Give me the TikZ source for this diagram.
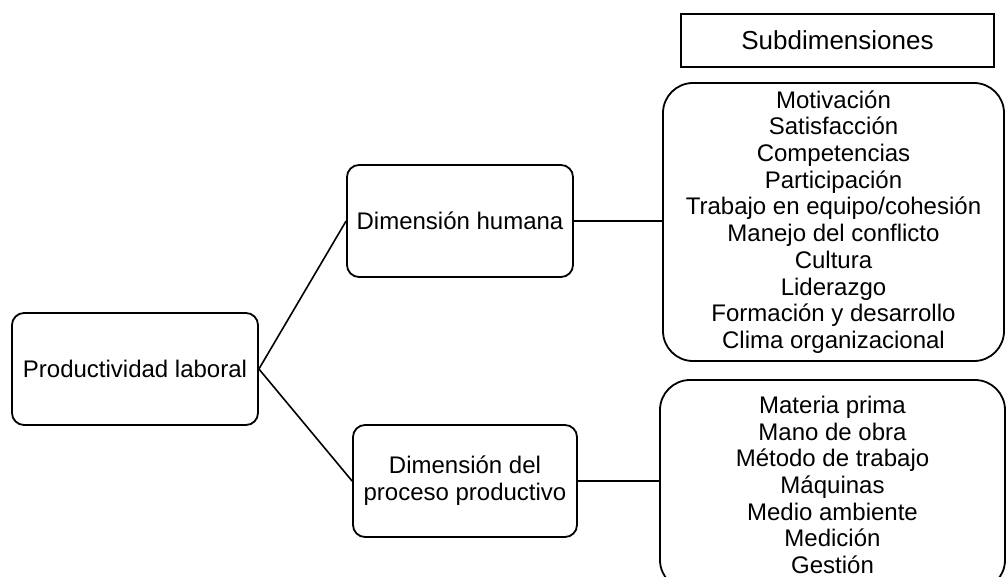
\documentclass[tikz,border=0pt]{standalone}
\usepackage{fontspec}
\setmainfont{Liberation Sans}
\begin{document}
\begin{tikzpicture}[x=1pt, y=-1pt, font=\fontsize{24}{26.7}\selectfont]
    \tikzstyle{box_style} = [draw=black, line width=1.8, rounded corners=12, align=center, inner sep=0]
    \tikzstyle{list_style} = [draw=black, line width=1.8, rounded corners=30, align=center, inner sep=0]
    \tikzstyle{edge_style} = [black, line width=1.6]

    \clip (0,0) rectangle (1006,577);

    \node[box_style, minimum width=246, minimum height=112] (prod) at (135,369) {Productividad laboral};
    \node[box_style, minimum width=226, minimum height=112] (hum) at (460,221) {Dimensión humana};
    \node[box_style, minimum width=224, minimum height=112] (proc) at (465,481) {Dimensión del\\proceso productivo};

    \node[draw=black, line width=1.8, minimum width=313, minimum height=53, inner sep=0,
          font=\fontsize{26}{30}\selectfont] (sub) at (837.5,40.5) {Subdimensiones};

    \node[list_style, minimum width=341, minimum height=278] (hlist) at (833.5,222)
        {Motivación\\Satisfacción\\Competencias\\Participación\\Trabajo en equipo/cohesión\\
         Manejo del conflicto\\Cultura\\Liderazgo\\Formación y desarrollo\\Clima organizacional};
    \node[list_style, minimum width=345, minimum height=210] (plist) at (832.5,485)
        {Materia prima\\Mano de obra\\Método de trabajo\\Máquinas\\Medio ambiente\\Medición\\Gestión};

    \draw[edge_style] (prod.east) -- (hum.west);
    \draw[edge_style] (prod.east) -- (proc.west);
    \draw[edge_style] (hum.east) -- (hum.east -| hlist.west);
    \draw[edge_style] (proc.east) -- (proc.east -| plist.west);
\end{tikzpicture}
\end{document}
